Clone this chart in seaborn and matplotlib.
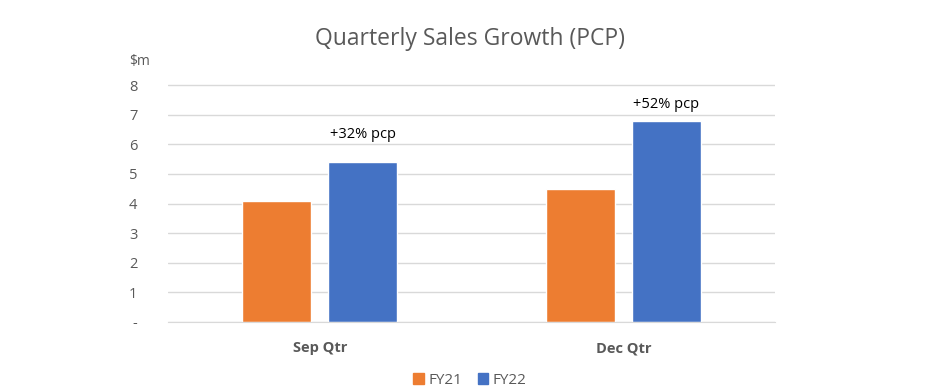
import pandas as pd
import matplotlib.pyplot as plt
import seaborn as sns

# chart data
quarters = ['Sep Qtr', 'Dec Qtr']
fy21 = [4.1, 4.5]
fy22 = [5.4, 6.8]
growth_labels = ['+32% pcp', '+52% pcp']

df = pd.DataFrame({
    'Quarter': quarters * 2,
    'Year': ['FY21'] * 2 + ['FY22'] * 2,
    'Sales': fy21 + fy22,
})

sns.set_style('white')
plt.rcParams['font.family'] = ['Open Sans', 'DejaVu Sans']

fig = plt.figure(figsize=(9.4, 3.92), dpi=100)
ax = fig.add_axes([168 / 940, 1 - 321.7 / 392, (775 - 168) / 940, (321.7 - 62) / 392])

sns.barplot(data=df, x='Quarter', y='Sales', hue='Year',
            palette=['#ED7D31', '#4472C4'], saturation=1, width=0.567, gap=0.2,
            ax=ax, legend=False)

ax.set_xlim(-0.5, 1.5)
ax.set_ylim(0, 8 * (321.7 - 62) / (321.7 - 85.3))
ax.set_yticks(range(0, 9))
ax.set_yticklabels(['-'] + [str(i) for i in range(1, 9)])
ax.yaxis.grid(True, color='#d9d9d9', linewidth=1)
ax.set_axisbelow(True)
for s in ['top', 'right', 'left']:
    ax.spines[s].set_visible(False)
ax.spines['bottom'].set_color('#d9d9d9')
ax.tick_params(axis='y', length=0, labelsize=10.5, labelcolor='#595959', pad=22)
ax.tick_params(axis='x', length=0, labelsize=10.5, labelcolor='#595959', pad=14)
for lbl in ax.get_xticklabels():
    lbl.set_fontweight('bold')
ax.set_xlabel('')
ax.set_ylabel('')

# unit label
fig.text(140 / 940, 1 - 62 / 392, '$m', ha='center', va='center',
         fontsize=10, color='#595959')

# title
fig.text(0.5, 1 - 39 / 392, 'Quarterly Sales Growth (PCP)', ha='center', va='center',
         fontsize=16.5, color='#595959')

# growth annotations above FY22 bars
fy22_bars = ax.containers[1]
offsets = [28, 16]
for bar, txt, off in zip(fy22_bars, growth_labels, offsets):
    ax.annotate(txt, (bar.get_x() + bar.get_width() / 2, bar.get_height()),
                xytext=(0, off), textcoords='offset pixels',
                ha='center', va='center', fontsize=10.5, color='black')

# legend
handles = [plt.Rectangle((0, 0), 1, 1, color=c) for c in ['#ED7D31', '#4472C4']]
fig.legend(handles, ['FY21', 'FY22'], loc='center', bbox_to_anchor=(470 / 940, 1 - 380 / 392),
           ncol=2, frameon=False, fontsize=11, handlelength=0.7, handleheight=0.7,
           handletextpad=0.3, columnspacing=1.0, labelcolor='#595959')

fig.savefig('out.png', dpi=100)
